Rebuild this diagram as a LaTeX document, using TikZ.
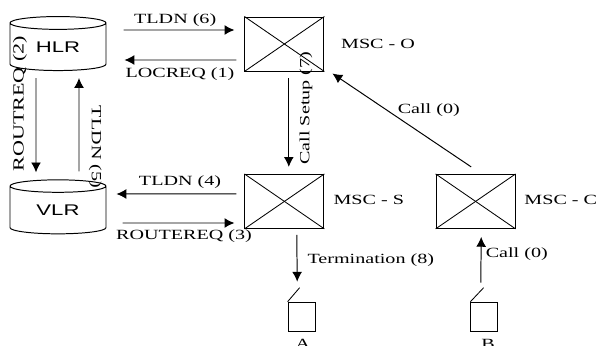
\documentclass[tikz,border=0pt]{standalone}
\usepackage{fontspec}
\setmainfont[FakeStretch=1.43]{Liberation Serif}
\setsansfont[FakeStretch=1.43]{Liberation Sans}
\usetikzlibrary{arrows.meta,shapes.geometric}
\tikzset{
  msc/.style={draw,line width=0.7pt,minimum width=1.975cm,minimum height=1.35cm,inner sep=0pt},
  db/.style={draw,line width=0.7pt,cylinder,shape border rotate=90,aspect=0.29,minimum width=2.4cm,minimum height=1.35cm,inner sep=0pt,font=\sffamily\fontsize{11}{11}\selectfont},
  phone/.style={draw,line width=0.7pt,minimum width=0.675cm,minimum height=0.72cm,inner sep=0pt},
  msg/.style={line width=0.7pt,-{Latex[length=7pt,width=7pt]}},
  lbl/.style={inner sep=0pt,font=\fontsize{10}{10}\selectfont}
}
\begin{document}
\begin{tikzpicture}
\useasboundingbox (0,0) rectangle (14.95,8.625);
% exchanges and registers
\node[msc] (msco) at (7.11,7.525) {};
\node[msc] (mscs) at (7.11,3.59) {};
\node[msc] (mscc) at (11.89,3.59) {};
\foreach \sw in {msco,mscs,mscc}{
  \draw[line width=0.6pt] (\sw.north west) -- (\sw.south east);
  \draw[line width=0.6pt] (\sw.south west) -- (\sw.north east);
}
\node[db] (hlr) at (1.45,7.45) {\raisebox{-0.08cm}{HLR}};
\node[db] (vlr) at (1.45,3.37) {\raisebox{-0.05cm}{VLR}};

% subscribers
\node[phone] (phonea) at (7.54,0.71) {};
\node[phone] (phoneb) at (12.11,0.71) {};
\draw[line width=0.6pt] (phonea.north west) -- ++(0.3,0.35);
\draw[line width=0.6pt] (phoneb.north west) -- ++(0.33,0.35);

%------------------------------------------------

\draw[msg] ([shift={(0.425,0.425)}]hlr.east) -- ([shift={(-0.25,0.35)}]msco.west);
\draw[msg] ([shift={(-0.2,-0.4)}]msco.west) -- ([shift={(0.45,-0.325)}]hlr.east);
\draw[msg] ([shift={(-0.55,-0.175)}]hlr.south) -- ([shift={(-0.55,0.175)}]vlr.north);
\draw[msg] ([shift={(0.525,0.2)}]vlr.north) -- ([shift={(0.525,-0.175)}]hlr.south);
\draw[msg] ([shift={(0.11,-0.175)}]msco.south) -- ([shift={(0.11,0.175)}]mscs.north);
\draw[msg] ([shift={(-0.2,0.19)}]mscs.west) -- ([shift={(0.25,0.405)}]vlr.east);
\draw[msg] ([shift={(0.4,-0.32)}]vlr.east) -- ([shift={(-0.25,-0.54)}]mscs.west);
\draw[msg] ([shift={(0.31,-0.15)}]mscs.south) -- ([shift={(-0.11,0.5)}]phonea.north);
\draw[msg] ([shift={(-0.09,0.475)}]phoneb.north) -- ([shift={(0.14,-0.2)}]mscc.south);
\draw[msg] ([shift={(-0.11,0.175)}]mscc.north) -- ([shift={(0.2,-0.05)}]msco.south east);

%------------------------------------------------

\node[lbl] (ltldnsix) at (4.38,8.13) {TLDN (6)};
\node[lbl] (llocreq) at (4.5,6.775) {LOCREQ (1)};
\node[lbl,rotate=90,font=\fontsize{11}{11}\selectfont] (lroutreq) at (0.5,6.03) {ROUTREQ (2)};
\node[lbl,rotate=-90] (ltldnfive) at (2.38,4.95) {TLDN (5)};
\node[lbl,rotate=90] (lsetup) at (7.65,5.92) {Call Setup (7)};
\node[lbl] (ltldnfour) at (4.5,4.07) {TLDN (4)};
\node[lbl] (lrouterq) at (4.6,2.73) {ROUTEREQ (3)};
\node[lbl] (lmsco) at (9.45,7.525) {MSC - O};
\node[lbl] (lmscs) at (9.22,3.62) {MSC - S};
\node[lbl] (lmscc) at (14.02,3.62) {MSC - C};
\node[lbl] (lcalldiag) at (10.72,5.875) {Call (0)};
\node[lbl] (lterm) at (9.27,2.125) {Termination (8)};
\node[lbl] (lcallup) at (12.92,2.27) {Call (0)};
\node[lbl] (la) at (7.57,0.02) {A};
\node[lbl] (lb) at (12.2,0.02) {B};
\end{tikzpicture}
\end{document}
